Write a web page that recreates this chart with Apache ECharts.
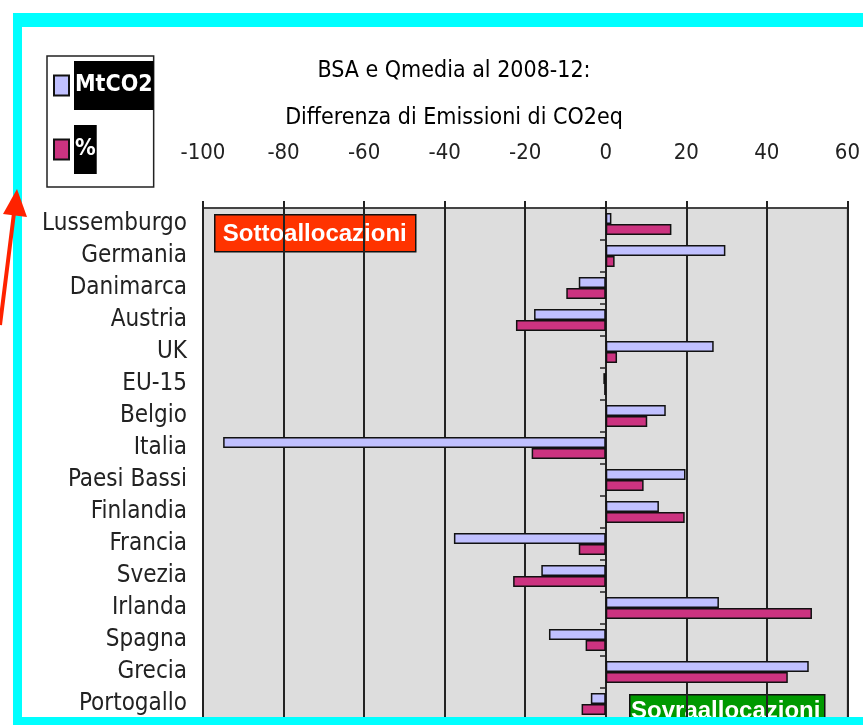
<!DOCTYPE html>
<html>
<head>
<meta charset="utf-8">
<script src="https://cdn.jsdelivr.net/npm/echarts@6/dist/echarts.min.js"></script>
<style>
  html, body { margin: 0; padding: 0; background: #fff; }
  #chart { width: 863px; height: 725px; }
</style>
</head>
<body>
<div id="chart"></div>
<script>
// categorie (dall'alto verso il basso)
const paesi = ['Lussemburgo', 'Germania', 'Danimarca', 'Austria', 'UK', 'EU-15', 'Belgio', 'Italia',
  'Paesi Bassi', 'Finlandia', 'Francia', 'Svezia', 'Irlanda', 'Spagna', 'Grecia', 'Portogallo'];
// differenza in MtCO2
const mtco2 = [1.4, 29.7, -6.7, -17.8, 26.8, -0.6, 14.9, -95, 19.8, 13.2, -37.7, -16, 28.1, -14.1, 50.4, -3.7];
// differenza in %
const perc = [16.3, 2.2, -9.8, -22.3, 2.8, -0.4, 10.3, -18.4, 9.4, 19.6, -6.7, -23, 51.2, -5, 45.2, -6];
// scala asse x
const xMin = -100, xMax = 60, xStep = 20;

const narrow = "'Liberation Sans Narrow', 'DejaVu Sans Condensed', sans-serif";

const myChart = echarts.init(document.getElementById('chart'));

const option = {
  animation: false,
  backgroundColor: '#fff',
  title: {
    text: 'BSA e Qmedia al 2008-12:\nDifferenza di Emissioni di CO2eq',
    left: 449,
    top: 43,
    textAlign: 'center',
    textStyle: {
      fontFamily: narrow,
      fontSize: 23,
      fontWeight: 'normal',
      color: '#000',
      lineHeight: 47
    }
  },
  legend: {
    orient: 'vertical',
    left: 47,
    top: 56,
    padding: [5, 0, 13, 6],
    itemGap: 15,
    itemWidth: 15,
    itemHeight: 20,
    borderColor: '#222',
    borderWidth: 1.5,
    icon: 'rect',
    data: ['MtCO2', '%'],
    textStyle: {
      fontFamily: narrow,
      fontSize: 23,
      fontWeight: 'bold',
      color: '#fff',
      backgroundColor: '#000',
      padding: [13, 1, 13, 1]
    }
  },
  grid: {
    left: 203,
    top: 208,
    width: 645,
    height: 512,
    show: true,
    backgroundColor: '#dddddd',
    borderColor: '#999',
    borderWidth: 1.5
  },
  xAxis: {
    type: 'value',
    position: 'top',
    min: xMin,
    max: xMax,
    interval: xStep,
    axisLine: { show: true, lineStyle: { color: '#222', width: 1.5 } },
    axisTick: { show: true, length: 7, lineStyle: { color: '#222', width: 2 } },
    axisLabel: {
      fontFamily: narrow,
      fontSize: 22,
      color: '#222',
      margin: 44
    },
    splitLine: { show: true, lineStyle: { color: '#222', width: 2 } }
  },
  yAxis: [
    {
      type: 'category',
      data: paesi,
      inverse: true,
      axisLine: { show: false },
      axisTick: { show: false },
      axisLabel: {
        interval: 0,
        fontFamily: narrow,
        fontSize: 24,
        color: '#222',
        margin: 16
      }
    },
    {
      // tacche sull'asse dello zero
      type: 'category',
      data: paesi,
      inverse: true,
      position: 'left',
      offset: -403,
      axisLine: { show: false },
      axisTick: { show: true, length: 6, lineStyle: { color: '#222', width: 1.5 } },
      axisLabel: { show: false }
    }
  ],
  series: [
    {
      name: 'MtCO2',
      type: 'bar',
      data: mtco2,
      barGap: '0%',
      barCategoryGap: '32%',
      itemStyle: { color: '#c0c0ff', borderColor: '#111', borderWidth: 1.5 }
    },
    {
      name: '%',
      type: 'bar',
      data: perc,
      itemStyle: { color: '#cc3380', borderColor: '#111', borderWidth: 1.5 }
    }
  ],
  graphic: [
    // etichetta sottoallocazioni
    {
      type: 'group', left: 214, top: 214, z: 50,
      children: [
        { type: 'rect', shape: { x: 0, y: 0, width: 201, height: 37 },
          style: { fill: '#ff3300', stroke: '#111', lineWidth: 1.5 } },
        { type: 'text', x: 100, y: 20,
          style: { text: 'Sottoallocazioni', fill: '#fff', font: 'bold 24px "Liberation Sans", Arial, sans-serif',
            textAlign: 'center', textVerticalAlign: 'middle' } }
      ]
    },
    // cornice ciano
    { type: 'rect', z: 60, shape: { x: 13, y: 13, width: 850, height: 14 }, style: { fill: '#00ffff' } },
    { type: 'rect', z: 60, shape: { x: 13, y: 13, width: 9, height: 712 }, style: { fill: '#00ffff' } },
    { type: 'rect', z: 60, shape: { x: 13, y: 717, width: 850, height: 8 }, style: { fill: '#00ffff' } },
    // etichetta sovraallocazioni
    {
      type: 'group', left: 629, top: 694, z: 70,
      children: [
        { type: 'rect', shape: { x: 0, y: 0, width: 195, height: 40 },
          style: { fill: '#009900', stroke: '#111', lineWidth: 1.5 } },
        { type: 'text', x: 96, y: 17,
          style: { text: 'Sovraallocazioni', fill: '#fff', font: 'bold 24px "Liberation Sans", Arial, sans-serif',
            textAlign: 'center', textVerticalAlign: 'middle' } }
      ]
    },
    // freccia rossa
    { type: 'line', z: 70, shape: { x1: 0, y1: 325, x2: 15, y2: 205 },
      style: { stroke: '#ff2200', lineWidth: 4 } },
    { type: 'polygon', z: 70, shape: { points: [[17, 189], [3, 214], [27, 217]] },
      style: { fill: '#ff2200' } }
  ]
};

myChart.setOption(option);
</script>
</body>
</html>
